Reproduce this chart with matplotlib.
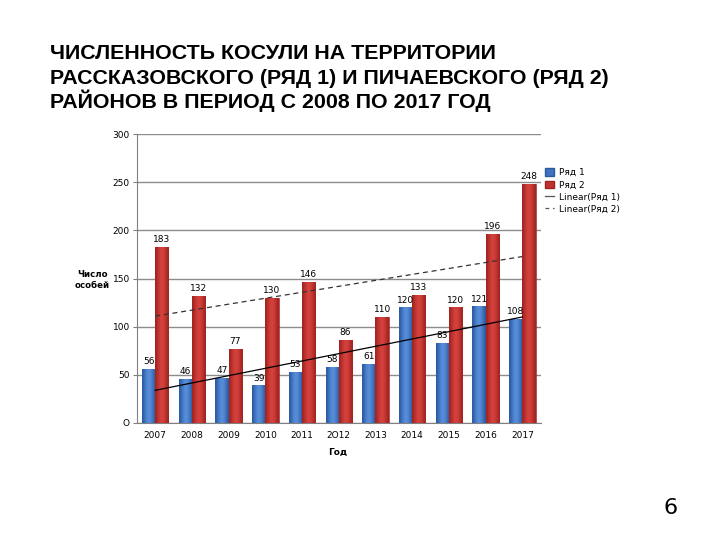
import numpy as np
import matplotlib
matplotlib.use("Agg")
import matplotlib.pyplot as plt
from matplotlib.lines import Line2D
from matplotlib.patches import Patch
from matplotlib.colors import LinearSegmentedColormap

years = ["2007", "2008", "2009", "2010", "2011", "2O12", "2013", "2014", "2015", "2016", "2017"]
row1 = [56, 46, 47, 39, 53, 58, 61, 120, 83, 121, 108]
row2 = [183, 132, 77, 130, 146, 86, 110, 133, 120, 196, 248]
yticks = [0, 50, 100, 150, 200, 250, 300]
ytick_labels = ["O", "50", "100", "150", "200", "250", "300"]

title_lines = ["ЧИСЛЕННОСТЬ КОСУЛИ НА ТЕРРИТОРИИ",
               "РАССКАЗОВСКОГО (РЯД 1) И ПИЧАЕВСКОГО (РЯД 2)",
               "РАЙОНОВ В ПЕРИОД С 2008 ПО 2017 ГОД"]

plt.rcParams["font.family"] = ["DejaVu Sans"]

fig = plt.figure(figsize=(7.2, 5.4), dpi=100)
fig.patch.set_facecolor("white")

# title, one text per line so the baselines match the slide
for i, line in enumerate(title_lines):
    fig.text(0.069, 1 - (59 + 24.5 * i) / 540, line, ha="left", va="baseline",
             fontsize=15.4, fontweight="bold", family="Liberation Sans")

ax = fig.add_axes([0.19, 0.2167, 0.562, 0.535])
x = np.arange(len(years))
w = 0.36
blue = "#3F72C0"
red = "#C2312F"

b1 = ax.bar(x - w / 2, row1, w, color=blue, edgecolor="#2E5A9C", linewidth=0.4, zorder=3)
b2 = ax.bar(x + w / 2, row2, w, color=red, edgecolor="#9A2220", linewidth=0.4, zorder=3)

# gradient fill like the office chart style
grad = np.array([[0.0, 0.45, 0.8, 1.0, 0.8, 0.45, 0.0]])
cm_blue = LinearSegmentedColormap.from_list("b", ["#2C5BA3", "#5A90DC"])
cm_red = LinearSegmentedColormap.from_list("r", ["#A22421", "#D8433E"])
for bars, cm in [(b1, cm_blue), (b2, cm_red)]:
    for bar in bars:
        bx, by = bar.get_x(), bar.get_y()
        bw, bh = bar.get_width(), bar.get_height()
        im = ax.imshow(grad, cmap=cm, aspect="auto", interpolation="bicubic",
                       extent=[bx, bx + bw, by, by + bh], zorder=3.5)
        im.set_clip_path(bar)

for xi, v in zip(x, row1):
    ax.text(xi - w / 2, v + 3, str(v), ha="center", va="bottom", fontsize=6.5, zorder=5)
for xi, v in zip(x, row2):
    ax.text(xi + w / 2, v + 3, str(v), ha="center", va="bottom", fontsize=6.5, zorder=5)

# linear trend lines (like Excel trendlines)
k1, c1 = np.polyfit(x, row1, 1)
k2, c2 = np.polyfit(x, row2, 1)
ax.plot(x, k1 * x + c1, color="black", linewidth=0.9, zorder=4)
ax.plot(x, k2 * x + c2, color="#333333", linewidth=0.9, linestyle=(0, (4, 3)), zorder=4)

ax.set_xlim(-0.5, 10.52)
ax.set_ylim(0, 300)
ax.set_yticks(yticks)
ax.set_yticklabels(ytick_labels)
ax.set_xticks(x)
ax.set_xticklabels(years)
ax.tick_params(axis="both", labelsize=6.5, length=3, color="#808080")
ax.tick_params(axis="y", pad=2)
ax.tick_params(axis="x", length=0, pad=6)
ax.yaxis.grid(True, color="#8c8c8c", linewidth=1.0, zorder=0)
ax.set_axisbelow(True)
for s in ["top", "right"]:
    ax.spines[s].set_visible(False)
ax.spines["left"].set_color("#808080")
ax.spines["bottom"].set_color("#808080")

fig.text(0.128, 0.482, "Число\nособей", ha="center", va="center", fontsize=6.2,
         fontweight="bold", linespacing=1.3)
fig.text(0.469, 0.163, "Год", ha="center", va="center", fontsize=6.5, fontweight="bold")

handles = [
    Patch(facecolor=blue, edgecolor="#2E5A9C"),
    Patch(facecolor=red, edgecolor="#9A2220"),
    Line2D([], [], color="#555555", linewidth=0.9),
    Line2D([], [], color="#555555", linewidth=0.9, linestyle=(0, (3, 3))),
]
labels = ["Ряд 1", "Ряд 2", "Linear(Ряд 1)", "Linear(Ряд 2)"]
fig.legend(handles, labels, loc="upper left", bbox_to_anchor=(0.752, 0.695),
           frameon=False, fontsize=6.5, handlelength=1.0, handleheight=0.9,
           handletextpad=0.6, labelspacing=0.35, borderaxespad=0)

fig.text(0.932, 0.04, "6", ha="center", va="bottom", fontsize=16)

fig.savefig("out.png", dpi=100)
